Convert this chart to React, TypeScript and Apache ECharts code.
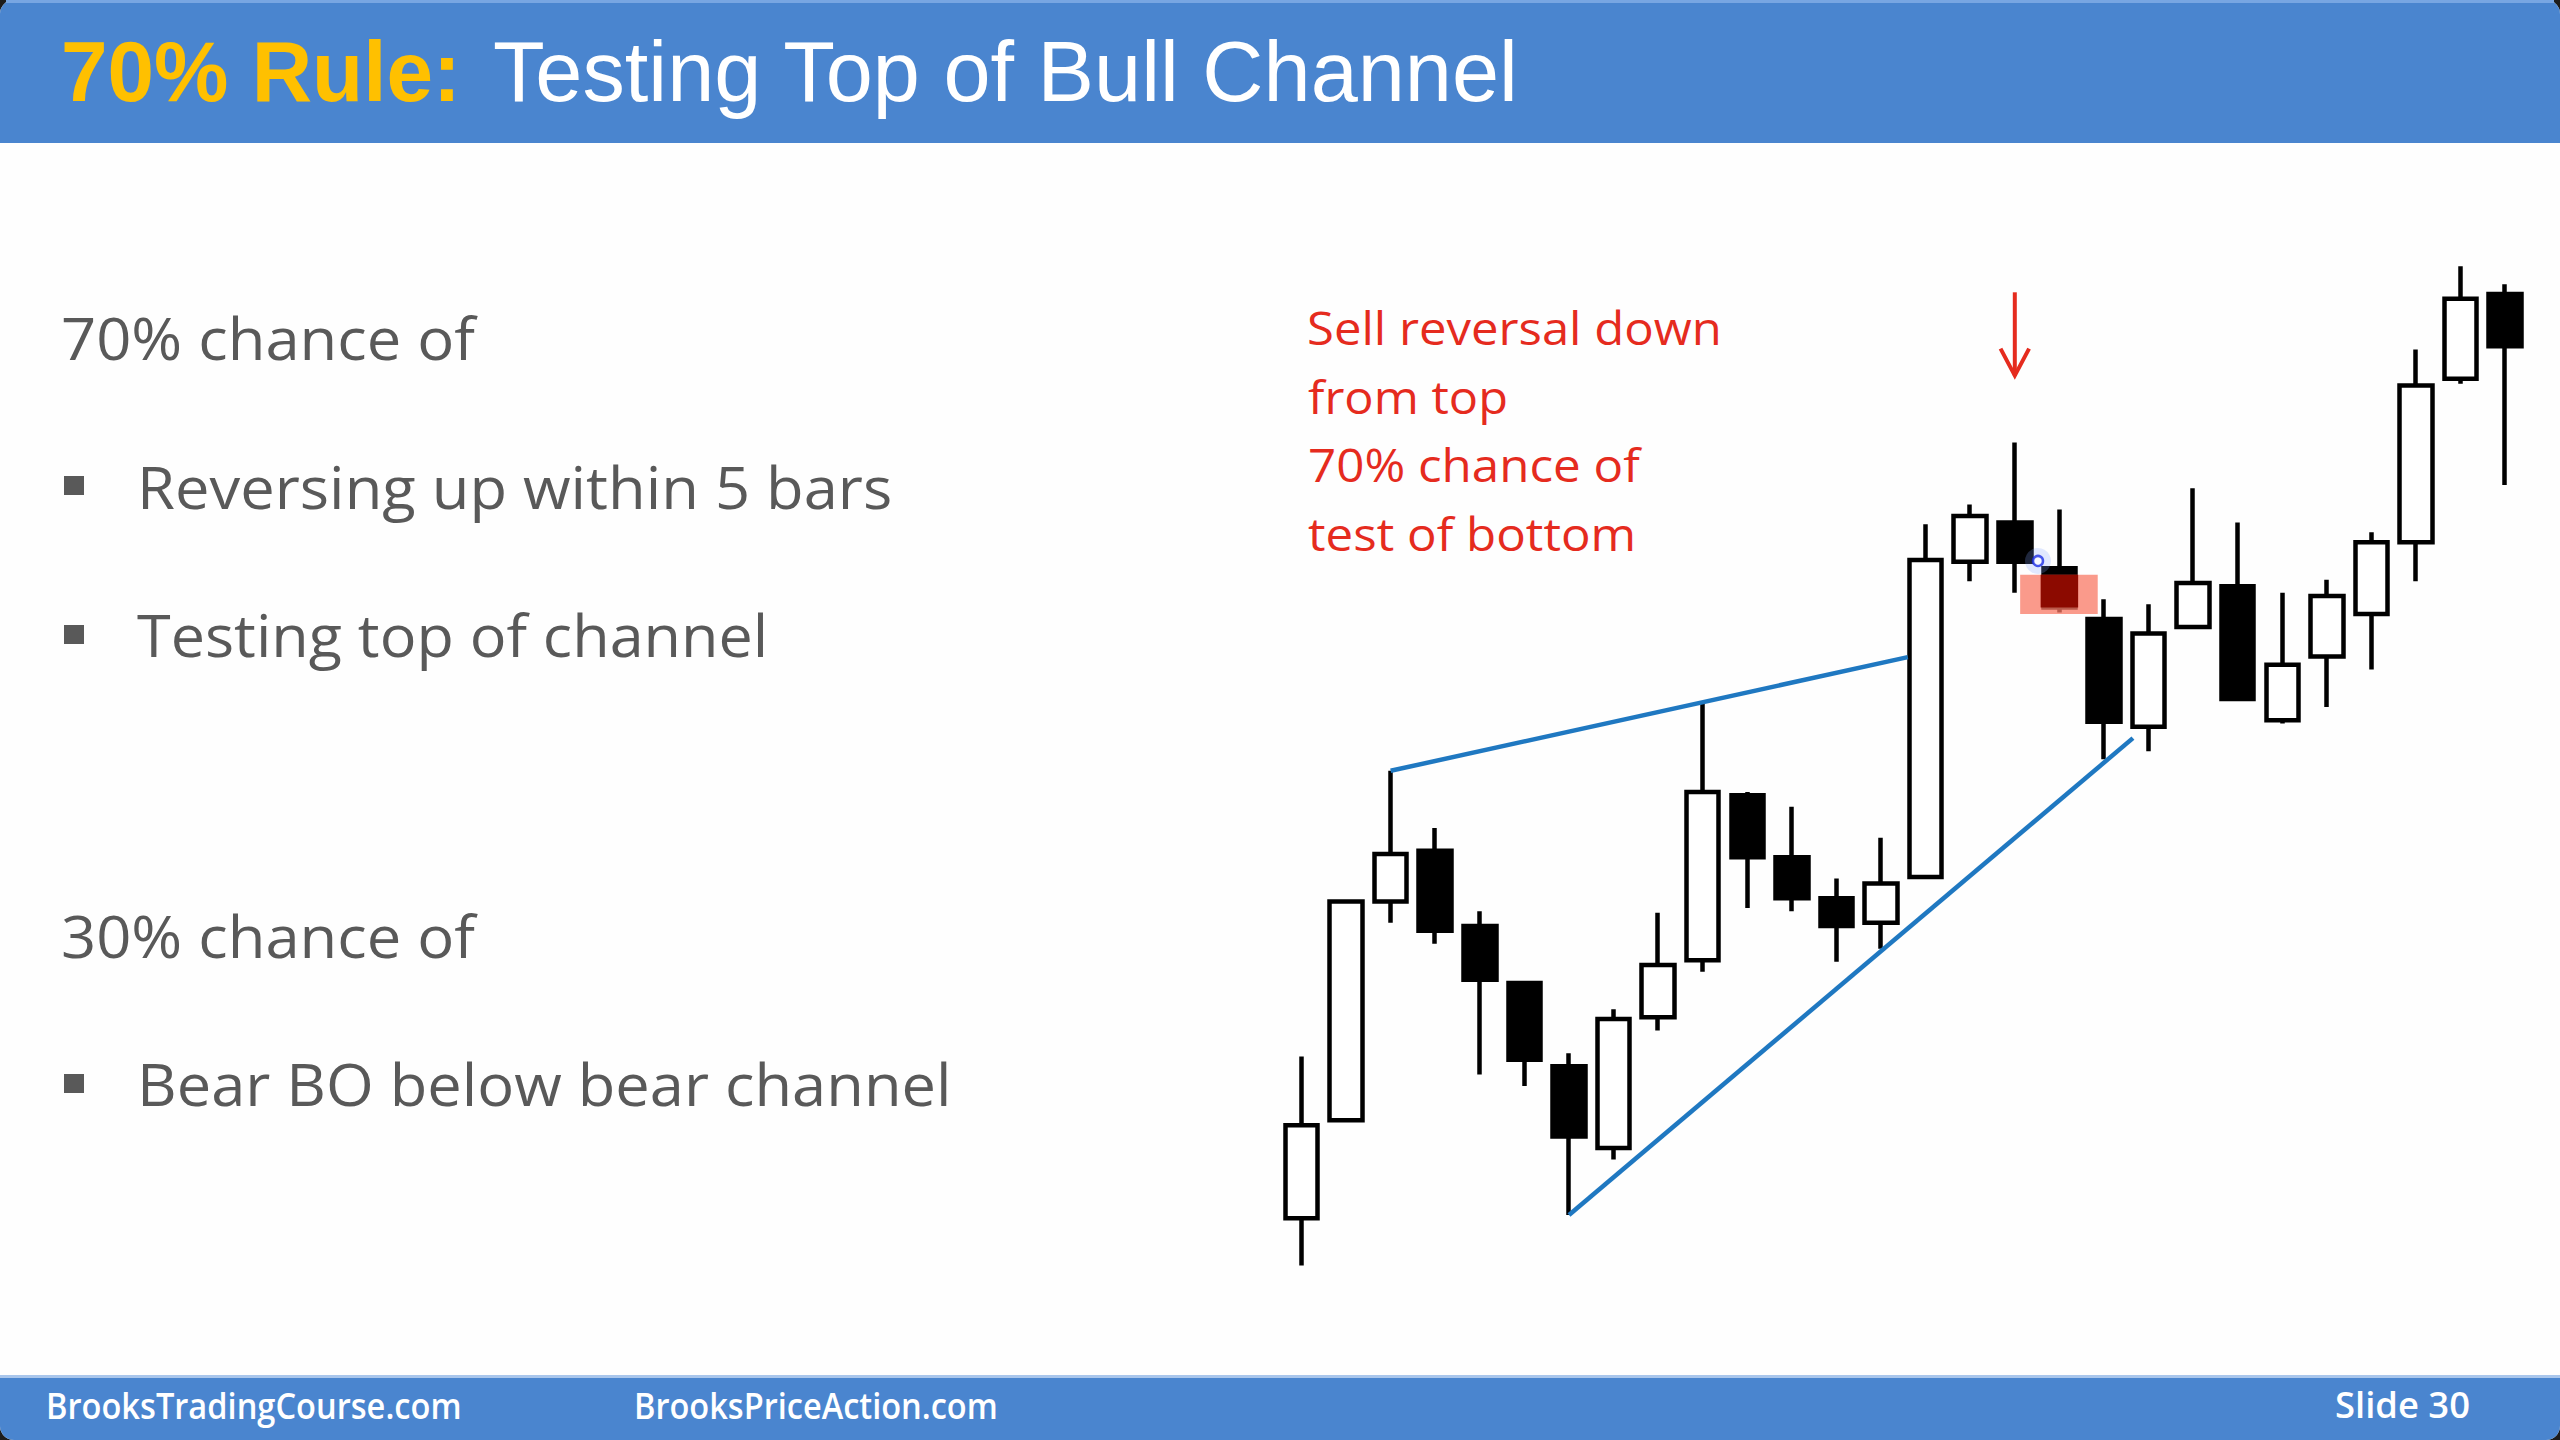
import React, { useEffect, useRef } from "react";
import * as echarts from "echarts";

// ---------- data ----------
const bars = ["1","2","3","4","5","6","7","8","9","10","11","12","13","14","15","16","17","18","19","20","21","22","23","24","25","26","27","28"];
const opens  = [54,114,248,279,233,198,147,97,177,212,313,275,250,235,263,456,480,452,421,355,416,441,359,398,424,468,568,620];
const closes = [111,248,277,230,200,151,104,176,209,315,275,250,233,259,457,484,456,428,358,412,443,372,393,435,468,564,617,588];
const lows   = [25,114,235,222,142,135,56,90,169,205,244,242,211,219,263,444,437,425,335,340,416,372,357,367,390,444,565,503];
const highs  = [153,249,328,293,242,199,155,182,241,369,315,306,262,287,479,491,529,488,433,430,501,480,437,445,474,586,637,626];

const topChannel = [[2, 328], [13.6, 397.6]];
const bottomChannel = [[6, 56], [18.65, 348]];
const arrowShaft = [[16, 621], [16, 570]];
const arrowHead = [[15.68, 586.5], [16, 570], [16.32, 586.5]];
const highlightBox = [[16.12, 17.86, 448, 424]];
const highlightBar = 17;
const cursorPoint = [[16.52, 456.5]];

const titleBold = "70% Rule:";
const titleRest = "Testing Top of Bull Channel";
const leftHeadings = ["70% chance of", "30% chance of"];
const leftBullets = ["Reversing up within 5 bars", "Testing top of channel", "Bear BO below bear channel"];
const noteLines = ["Sell reversal down", "from top", "70% chance of", "test of bottom"];
const footerTexts = ["BrooksTradingCourse.com", "BrooksPriceAction.com", "Slide 30"];

const BAR_W = 33;
const BORDER = 4.5;

function fitScale(text: string, weight: string, size: number, family: string, target: number) {
  const c = document.createElement("canvas").getContext("2d");
  if (!c) return 1;
  c.font = `${weight} ${size}px "${family}"`;
  const w = c.measureText(text).width;
  return w > 0 ? target / w : 1;
}

function txt(text: string, x: number, y: number, size: number, family: string, weight: string, fill: string, target: number, extra: any = {}) {
  return {
    type: "text",
    x,
    y,
    scaleX: fitScale(text, weight, size, family, target),
    style: {
      text,
      fontSize: size,
      fontFamily: family,
      fontWeight: weight,
      fill,
      align: "left",
      verticalAlign: "middle",
      ...extra,
    },
  };
}

export default function App() {
  const ref = useRef<HTMLDivElement>(null);

  useEffect(() => {
    if (!ref.current) return;
    const chart = echarts.init(ref.current, undefined, { renderer: "svg" });

    const candleData = opens.map((o, i) => [o, closes[i], lows[i], highs[i]]);

    const leftFont = "Open Sans";
    const gray = "#595959";
    const red = "#e52b1e";
    const shadow = { shadowColor: "rgba(0,0,0,0.35)", shadowBlur: 3, shadowOffsetX: 2, shadowOffsetY: 2 };

    const graphics: any[] = [
      { type: "rect", z: -10, shape: { x: 0, y: 0, width: 2560, height: 1440 }, style: { fill: "#1c1c1c" } },
      { type: "rect", z: -9, shape: { x: 0, y: 0, width: 2560, height: 1440, r: 14 }, style: { fill: "#fefefe" } },
      { type: "rect", z: -8, shape: { x: 0, y: 0, width: 2560, height: 143, r: [14, 14, 0, 0] }, style: { fill: "#4a85cf" } },
      { type: "rect", z: -7, shape: { x: 6, y: 0, width: 2548, height: 3 }, style: { fill: "#78a6e2" } },
      { type: "rect", z: -8, shape: { x: 0, y: 1376, width: 2560, height: 64, r: [0, 0, 14, 14] }, style: { fill: "#4a85cf" } },
      { type: "rect", z: -7, shape: { x: 0, y: 1375, width: 2560, height: 3 }, style: { fill: "#a9c6ec" } },
      txt(titleBold, 61, 71, 86, "Liberation Sans", "bold", "#ffc000", 400, shadow),
      txt(titleRest, 493, 71, 86, "Liberation Sans", "normal", "#ffffff", 1027, shadow),
      txt(leftHeadings[0], 61, 337, 59, leftFont, "normal", gray, 414),
      txt(leftBullets[0], 137, 486, 59, leftFont, "normal", gray, 755),
      txt(leftBullets[1], 137, 634.5, 59, leftFont, "normal", gray, 631.5),
      txt(leftHeadings[1], 61, 935, 59, leftFont, "normal", gray, 414),
      txt(leftBullets[2], 137, 1083.5, 59, leftFont, "normal", gray, 815),
      { type: "rect", shape: { x: 64, y: 476, width: 20, height: 19 }, style: { fill: gray } },
      { type: "rect", shape: { x: 64, y: 625, width: 20, height: 19 }, style: { fill: gray } },
      { type: "rect", shape: { x: 64, y: 1074, width: 20, height: 19 }, style: { fill: gray } },
      txt(noteLines[0], 1307, 327.5, 46, leftFont, "normal", red, 415),
      txt(noteLines[1], 1308, 396.5, 46, leftFont, "normal", red, 200),
      txt(noteLines[2], 1308, 464.5, 46, leftFont, "normal", red, 331.7),
      txt(noteLines[3], 1308, 533, 46, leftFont, "normal", red, 328.3),
      txt(footerTexts[0], 46, 1404.5, 36, leftFont, "600", "#ffffff", 416),
      txt(footerTexts[1], 634, 1404.5, 36, leftFont, "600", "#ffffff", 364),
      txt(footerTexts[2], 2335, 1404.5, 36, leftFont, "600", "#ffffff", 135),
    ];

    const option: any = {
      animation: false,
      backgroundColor: "transparent",
      graphic: { elements: graphics },
      grid: { left: 1279.2, width: 1248.3, top: 163.3, height: 1143.1, containLabel: false, show: false },
      xAxis: [
        { type: "category", data: bars, boundaryGap: true, show: false },
        { type: "value", min: -0.5, max: 27.5, show: false },
      ],
      yAxis: { type: "value", min: 0, max: 700, show: false, splitLine: { show: false } },
      series: [
        {
          type: "candlestick",
          xAxisIndex: 0,
          data: candleData,
          barWidth: BAR_W,
          z: 2,
          itemStyle: {
            color: "#ffffff",
            color0: "#000000",
            borderColor: "#000000",
            borderColor0: "#000000",
            borderWidth: BORDER,
          },
        },
        {
          type: "line",
          xAxisIndex: 1,
          data: topChannel,
          symbol: "none",
          z: 3,
          lineStyle: { color: "#1f78c1", width: 4.5 },
        },
        {
          type: "line",
          xAxisIndex: 1,
          data: bottomChannel,
          symbol: "none",
          z: 3,
          lineStyle: { color: "#1f78c1", width: 4.5 },
        },
        {
          type: "line",
          xAxisIndex: 1,
          data: arrowShaft,
          symbol: "none",
          z: 3,
          lineStyle: { color: red, width: 4 },
        },
        {
          type: "line",
          xAxisIndex: 1,
          data: arrowHead,
          symbol: "none",
          z: 3,
          lineStyle: { color: red, width: 4, join: "miter" },
        },
        {
          type: "custom",
          xAxisIndex: 1,
          z: 5,
          data: highlightBox,
          encode: { x: [0, 1], y: [2, 3] },
          renderItem: (params: any, api: any) => {
            const p0 = api.coord([api.value(0), api.value(2)]);
            const p1 = api.coord([api.value(1), api.value(3)]);
            const bTop = Math.min(api.value(2), Math.max(opens[highlightBar], closes[highlightBar]));
            const bBot = Math.max(api.value(3), Math.min(opens[highlightBar], closes[highlightBar]));
            const q0 = api.coord([highlightBar, bTop]);
            const q1 = api.coord([highlightBar, bBot]);
            const half = BAR_W / 2 + BORDER / 2;
            return {
              type: "group",
              children: [
                { type: "rect", shape: { x: p0[0], y: p0[1], width: p1[0] - p0[0], height: p1[1] - p0[1] }, style: { fill: "rgba(248,120,100,0.75)" } },
                { type: "rect", shape: { x: q0[0] - half, y: q0[1], width: 2 * half, height: q1[1] - q0[1] }, style: { fill: "#8c0a00" } },
              ],
            };
          },
        },
        {
          type: "scatter",
          xAxisIndex: 1,
          data: cursorPoint,
          symbol: "circle",
          symbolSize: 26,
          z: 6,
          itemStyle: { color: "rgba(130,165,255,0.3)" },
        },
        {
          type: "scatter",
          xAxisIndex: 1,
          data: cursorPoint,
          symbol: "circle",
          symbolSize: 10,
          z: 7,
          itemStyle: { color: "rgba(255,255,255,0.9)", borderColor: "#1b2ee6", borderWidth: 2.5 },
        },
      ],
    };

    chart.setOption(option);
    return () => chart.dispose();
  }, []);

  return (
    <div
      ref={ref}
      style={{ position: "absolute", left: 0, top: 0, width: 2560, height: 1440 }}
    />
  );
}
